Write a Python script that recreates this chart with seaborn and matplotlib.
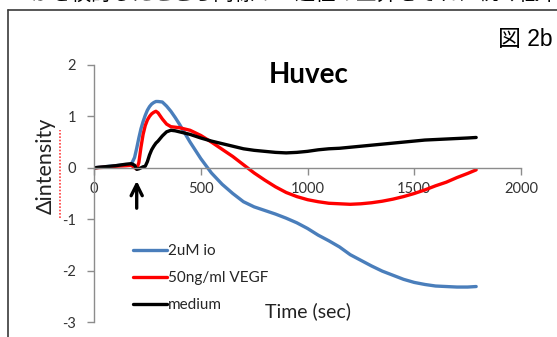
import matplotlib
matplotlib.use("Agg")
import matplotlib.pyplot as plt
from matplotlib.lines import Line2D
import pandas as pd
import seaborn as sns

# time grid (sec) shared by all three traces
time = [0, 50, 100, 150, 175, 190, 200, 210, 220, 230, 240, 250, 260, 270, 280, 290,
        300, 320, 340, 360, 380, 400, 450, 500, 550, 600, 650, 700, 750, 800, 850, 900,
        950, 1000, 1050, 1100, 1150, 1200, 1250, 1300, 1350, 1400, 1450, 1500, 1550,
        1600, 1650, 1700, 1750, 1790]

io_2um = [0, 0.02, 0.04, 0.06, 0.07, 0.2, 0.38, 0.58, 0.76, 0.9, 1.02, 1.12, 1.19, 1.24,
          1.27, 1.29, 1.29, 1.28, 1.2, 1.1, 0.98, 0.85, 0.5, 0.18, -0.1, -0.32, -0.5,
          -0.66, -0.76, -0.83, -0.9, -0.98, -1.07, -1.18, -1.31, -1.42, -1.54, -1.69,
          -1.8, -1.91, -2.01, -2.09, -2.17, -2.23, -2.27, -2.3, -2.31, -2.32, -2.32, -2.31]

vegf_50ng = [0, 0.01, 0.03, 0.04, 0.05, 0.0, -0.02, 0.1, 0.4, 0.65, 0.82, 0.93, 1.0, 1.05,
             1.08, 1.1, 1.07, 0.95, 0.85, 0.8, 0.79, 0.78, 0.73, 0.63, 0.5, 0.36, 0.22,
             0.06, -0.1, -0.24, -0.37, -0.48, -0.56, -0.62, -0.66, -0.69, -0.7, -0.71,
             -0.7, -0.68, -0.65, -0.61, -0.56, -0.5, -0.43, -0.35, -0.28, -0.19, -0.11, -0.04]

medium = [0, 0.02, 0.04, 0.07, 0.08, 0.05, -0.03, -0.02, 0.0, 0.02, 0.03, 0.12, 0.25, 0.35,
          0.42, 0.48, 0.52, 0.62, 0.7, 0.73, 0.72, 0.7, 0.65, 0.58, 0.52, 0.47, 0.42,
          0.37, 0.34, 0.32, 0.3, 0.29, 0.3, 0.32, 0.35, 0.37, 0.38, 0.4, 0.42, 0.44,
          0.46, 0.48, 0.5, 0.52, 0.54, 0.55, 0.56, 0.57, 0.58, 0.59]

labels = ["2uM io", "50ng/ml VEGF", "medium"]
colors = ["#4A7EBB", "#FF0000", "#000000"]

df = pd.DataFrame({"time": time, labels[0]: io_2um, labels[1]: vegf_50ng, labels[2]: medium})
long_df = df.melt(id_vars="time", var_name="treatment", value_name="intensity")

sns.set_theme(style="white")
plt.rcParams["font.family"] = ["Lato", "DejaVu Sans"]
plt.rcParams["axes.unicode_minus"] = False

fig = plt.figure(figsize=(5.57, 3.37), dpi=100)
ax = fig.add_axes([94 / 557, 1 - 322 / 337, 427 / 557, 257 / 337])

sns.lineplot(data=long_df, x="time", y="intensity", hue="treatment", hue_order=labels,
             palette=colors, linewidth=2.4, legend=False, ax=ax)

ax.set_xlim(0, 2000)
ax.set_ylim(-3, 2)
ax.set_xticks([0, 500, 1000, 1500, 2000])
ax.set_yticks([-3, -2, -1, 0, 1, 2])
ax.set_xlabel("")
ax.set_ylabel("")

for side in ["top", "right"]:
    ax.spines[side].set_visible(False)
ax.spines["bottom"].set_position(("data", 0))
for side in ["left", "bottom"]:
    ax.spines[side].set_color("#8C8C8C")
    ax.spines[side].set_linewidth(1.0)
ax.tick_params(axis="both", direction="out", length=5, width=1.0, color="#8C8C8C",
               labelsize=10.5, labelcolor="#333333")
ax.tick_params(axis="y", pad=8, left=True)
ax.tick_params(axis="x", pad=5, bottom=True)

# stimulus arrow
ax.annotate("", xy=(200, -0.2), xytext=(200, -0.84),
            arrowprops=dict(arrowstyle="->", color="black", lw=2.4,
                            mutation_scale=20))

ax.legend(handles=ax.lines[:3], labels=labels, loc="upper left",
          bbox_to_anchor=(133 / 557, 1 - 244 / 337), bbox_transform=fig.transFigure,
          frameon=False, fontsize=11, handlelength=2.2, handletextpad=0.1,
          labelspacing=0.85, borderpad=0, borderaxespad=0)

fig.text(309 / 557, 1 - 75 / 337, "Huvec", fontsize=20, fontweight="bold",
         ha="center", va="center", color="black")
fig.text(525 / 557, 1 - 40 / 337, "図 2b", fontsize=16.5, ha="center", va="center",
         family=["Liberation Sans", "Noto Sans CJK JP"], color="black")
fig.text(308 / 557, 1 - 311 / 337, "Time (sec)", fontsize=14, ha="center",
         va="center", color="#222222")
fig.text(46 / 557, 1 - 166 / 337, "Δintensity", fontsize=15.5, rotation=90,
         ha="center", va="center", color="#222222")
# spell-check squiggle under the axis label
fig.add_artist(Line2D([59.5 / 557, 59.5 / 557], [1 - 218 / 337, 1 - 130 / 337],
                      color="#FF4040", lw=1.2, ls=(0, (1, 1))))

# page text cut off at the top and the figure frame
fig.text(30 / 557, 1 - 5 / 337, "かを検討したところ同様の一過性の上昇をそれに続く低下",
         fontsize=14.7, ha="left", va="bottom", family=["Noto Sans CJK JP"], color="black")
fig.add_artist(Line2D([7.5 / 557, 7.5 / 557], [0, 1 - 9.5 / 337], color="#3A3A3A", lw=1.2))
fig.add_artist(Line2D([7.5 / 557, 1], [1 - 9.5 / 337, 1 - 9.5 / 337], color="#3A3A3A", lw=1.2))

fig.savefig("out.png", dpi=100)
